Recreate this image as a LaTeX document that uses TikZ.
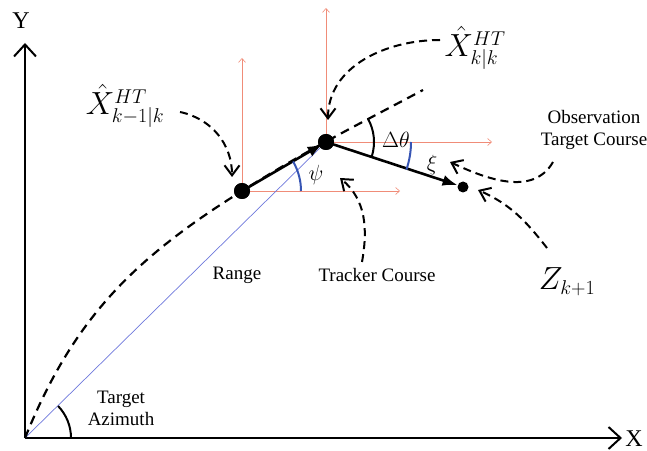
\RequirePackage{fix-cm}
\documentclass[tikz,border=0pt]{standalone}
\usepackage{fontspec}
\setmainfont{Liberation Serif}
\usetikzlibrary{arrows.meta,positioning}

\DeclareMathSizes{32}{32}{20}{14}
\definecolor{refred}{RGB}{240,140,120}
\definecolor{angblue}{RGB}{55,85,180}
\definecolor{rangeblue}{RGB}{110,120,220}

\tikzset{
	axisline/.style={line width=2pt,-{Straight Barb[length=12pt,width=22pt]}},
	pointer/.style={line width=2pt,dash pattern=on 8pt off 5pt,-{Straight Barb[length=10pt,width=15pt]}},
	course/.style={line width=2.6pt,-{Latex[length=15pt,width=11pt]}},
	refline/.style={refred,line width=0.6pt,-{Straight Barb[length=4pt,width=7pt]}},
	trackpath/.style={line width=2.2pt,dash pattern=on 9pt off 6pt},
	estdot/.style={circle,fill=black,inner sep=0pt,minimum size=#1},
	txtlbl/.style={font=\fontsize{19}{22}\selectfont,align=center,inner sep=0pt},
	anglbl/.style={font=\fontsize{22}{26}\selectfont,inner sep=0pt},
	biglbl/.style={font=\fontsize{32}{38}\selectfont,inner sep=0pt}
}

\begin{document}
\begin{tikzpicture}[x=1pt,y=1pt]
	\useasboundingbox (0,0) rectangle (647,450);

	% axes
	\coordinate (O) at (25,12);
	\coordinate (ytip) at (25,407);
	\coordinate (xtip) at (622,12);
	\draw[axisline] (O) -- (ytip);
	\draw[axisline] (O) -- (xtip);
	\node[font=\fontsize{24}{28}\selectfont,inner sep=0pt] (ylbl) at (21,429) {Y};
	\node[font=\fontsize{24}{28}\selectfont,inner sep=0pt] (xlbl) at (634,11) {X};

	% track points
	\node[estdot=16pt] (ptA) at (242,259) {};
	\node[estdot=16pt] (ptB) at (326,308) {};
	\node[estdot=11pt] (ptC) at (463,263) {};
	\coordinate (trackend) at (423,360);

	% reference frames at the estimates
	\coordinate (aUp) at (242,392);
	\coordinate (aRight) at (400,259);
	\coordinate (bUp) at (326,442);
	\coordinate (bRight) at (492,308);
	\draw[refline] (ptA.center) -- (aUp);
	\draw[refline] (ptA.center) -- (aRight);
	\draw[refline] (ptB.center) -- (bUp);
	\draw[refline] (ptB.center) -- (bRight);

	% range and target track
	\draw[rangeblue,line width=0.7pt] (O) -- (ptB.center);
	\draw[trackpath] (O) to[out=68,in=212] (ptA.center) to[out=32,in=208] (trackend);

	% courses
	\draw[course,shorten >=4pt] (ptA.center) -- (ptB.center);
	\draw[course] (ptB.center) -- (ptC);
	\node[estdot=16pt] at (ptA) {};
	\node[estdot=16pt] at (ptB) {};

	% angles
	\draw[angblue,line width=2pt] (ptA.center) ++(0:59pt) arc[start angle=0,end angle=30,radius=59pt];
	\draw[line width=2pt] (ptB.center) ++(-17:48pt) arc[start angle=-17,end angle=29,radius=48pt];
	\draw[angblue,line width=2pt] (ptB.center) ++(-19:85pt) arc[start angle=-19,end angle=0,radius=85pt];
	\draw[line width=2pt] (O) ++(0:46pt) arc[start angle=0,end angle=44,radius=46pt];

	\node[anglbl] (psi) at (316,275) {$\psi$};
	\node[anglbl] (dtheta) at (396,310) {$\Delta\theta$};
	\node[anglbl] (xi) at (432,285) {$\xi$};

	% labels
	\node[txtlbl] (range) at (237,175) {Range};
	\node[txtlbl] (tracker) at (377,175) {Tracker Course};
	\node[txtlbl] (obs) at (594,320) {Observation\\Target Course};
	\node[txtlbl] (azim) at (121,42) {Target\\Azimuth};
	\node[biglbl] (xprev) at (125,344) {$\hat{X}^{HT}_{k-1|k}$};
	\node[biglbl] (xcurr) at (475,402) {$\hat{X}^{HT}_{k|k}$};
	\node[biglbl] (zmeas) at (567,168) {$Z_{k+1}$};

	% pointers
	\coordinate (p1) at (180,338);
	\coordinate (p1tip) at (232,273);
	\coordinate (p2) at (440,410);
	\coordinate (p2tip) at (328,330);
	\coordinate (p3) at (362,188);
	\coordinate (p3tip) at (340,272);
	\coordinate (p4) at (553,288);
	\coordinate (p4tip) at (450,288);
	\coordinate (p5) at (547,202);
	\coordinate (p5tip) at (478,260);
	\draw[pointer] (p1) to[out=-12,in=90] (p1tip);
	\draw[pointer] (p2) to[out=180,in=90] (p2tip);
	\draw[pointer] (p3) to[out=80,in=-40] (p3tip);
	\draw[pointer] (p4) to[out=-120,in=-25] (p4tip);
	\draw[pointer] (p5) to[out=128,in=-24] (p5tip);

\end{tikzpicture}
\end{document}
